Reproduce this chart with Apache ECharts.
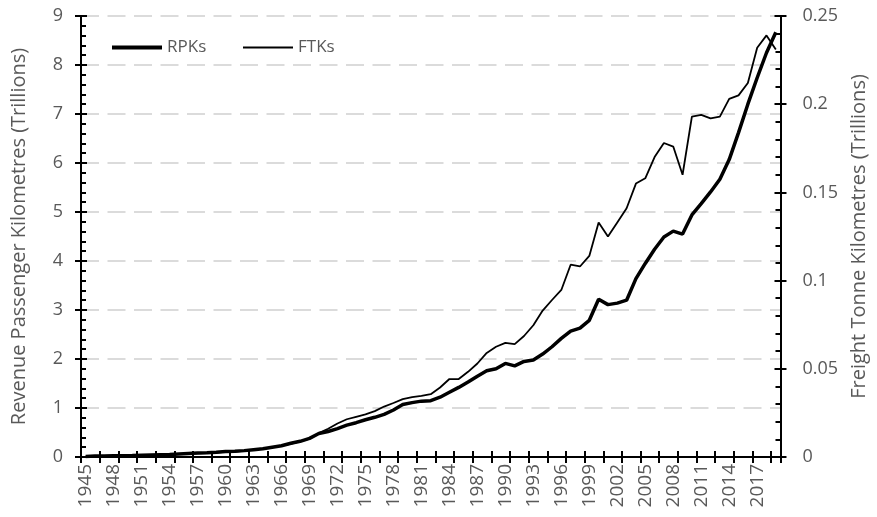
<!DOCTYPE html>
<html lang="en">
<head>
    <meta charset="utf-8">
    <title>RPKs and FTKs</title>
    <script type="text/javascript" src="https://cdn.jsdelivr.net/npm/echarts@6/dist/echarts.min.js"></script>
    <style>
        html, body { margin: 0; padding: 0; background: #fff; }
        #box { width: 877px; height: 517px; }
    </style>
</head>
<body>
    <div id="box"></div>
    <script>
        // years 1945 - 2019
        var years = [];
        for (var y = 1945; y <= 2019; y++) {
            years.push(String(y));
        }

        // Revenue Passenger Kilometres (trillions)
        var rpks = [
            0.01, 0.02, 0.022, 0.025, 0.028, 0.03, 0.035, 0.04, 0.045, 0.05,
            0.06, 0.07, 0.08, 0.085, 0.095, 0.11, 0.115, 0.13, 0.15, 0.17,
            0.2, 0.23, 0.28, 0.32, 0.38, 0.48, 0.52, 0.58, 0.65, 0.70,
            0.76, 0.81, 0.87, 0.96, 1.07, 1.11, 1.14, 1.15, 1.22, 1.32,
            1.42, 1.53, 1.65, 1.76, 1.80, 1.91, 1.86, 1.95, 1.98, 2.10,
            2.25, 2.42, 2.57, 2.63, 2.79, 3.22, 3.11, 3.14, 3.20, 3.64,
            3.95, 4.24, 4.49, 4.61, 4.55, 4.94, 5.17, 5.41, 5.67, 6.07,
            6.62, 7.20, 7.74, 8.25, 8.67
        ];

        // Freight Tonne Kilometres (trillions)
        var ftks = [
            0.0003, 0.0005, 0.0006, 0.0007, 0.0008, 0.0009, 0.001, 0.0011, 0.0012, 0.0014,
            0.0016, 0.0019, 0.0021, 0.0022, 0.0025, 0.0029, 0.0031, 0.0035, 0.004, 0.0047,
            0.0055, 0.0064, 0.0074, 0.0088, 0.0104, 0.0135, 0.016, 0.019, 0.0214, 0.0228,
            0.0242, 0.026, 0.0286, 0.0306, 0.0328, 0.0339, 0.0347, 0.0356, 0.0394, 0.0442,
            0.0442, 0.0483, 0.053, 0.059, 0.0625, 0.0647, 0.064, 0.0686, 0.0747, 0.083,
            0.089, 0.0947, 0.109, 0.108, 0.114, 0.133, 0.125, 0.133, 0.141, 0.155,
            0.158, 0.170, 0.178, 0.176, 0.160, 0.193, 0.194, 0.192, 0.193, 0.203,
            0.205, 0.212, 0.232, 0.239, 0.231
        ];

        var font = 'Open Sans';
        var grey = '#595959';
        var tickLine = { color: '#000', width: 2 };

        var myChart = echarts.init(document.getElementById('box'));

        var option = {
            animation: false,
            textStyle: { fontFamily: font },
            grid: { left: 81, right: 92, top: 16, bottom: 60, show: false },
            legend: [
                {
                    left: 107,
                    top: 34,
                    icon: 'rect',
                    itemWidth: 50,
                    itemHeight: 4,
                    itemGap: 6,
                    textStyle: { fontSize: 17, color: grey, fontFamily: font },
                    data: ['RPKs']
                },
                {
                    left: 238,
                    top: 34,
                    icon: 'rect',
                    itemWidth: 50,
                    itemHeight: 2,
                    textStyle: { fontSize: 17, color: grey, fontFamily: font },
                    data: ['FTKs']
                }
            ],
            xAxis: [
                {
                    type: 'category',
                    data: years,
                    position: 'bottom',
                    boundaryGap: true,
                    axisLine: { show: true, lineStyle: { color: '#000', width: 2 } },
                    axisTick: { show: true, interval: 1, length: 6, lineStyle: tickLine },
                    axisLabel: { interval: 2, rotate: 90, margin: 7, fontSize: 19, color: grey, fontFamily: font }
                },
                {
                    // inner half of the crossing ticks
                    type: 'category',
                    data: years,
                    position: 'bottom',
                    boundaryGap: true,
                    axisLine: { show: false },
                    axisTick: { show: true, interval: 1, inside: true, length: 6, lineStyle: tickLine },
                    axisLabel: { show: false }
                },
                {
                    // top border
                    type: 'category',
                    data: years,
                    position: 'top',
                    axisLine: { show: true, lineStyle: { color: '#000', width: 2 } },
                    axisTick: { show: false },
                    axisLabel: { show: false }
                }
            ],
            yAxis: [
                {
                    type: 'value',
                    position: 'left',
                    min: 0,
                    max: 9,
                    interval: 1,
                    name: 'Revenue Passenger Kilometres (Trillions)',
                    nameLocation: 'middle',
                    nameGap: 52,
                    nameTextStyle: { fontSize: 20, color: grey, fontFamily: font },
                    axisLine: { show: true, onZero: false, lineStyle: { color: '#000', width: 2 } },
                    axisTick: { show: true, length: 6, lineStyle: tickLine },
                    axisLabel: { margin: 18, fontSize: 18, color: grey, fontFamily: font },
                    splitLine: { show: true, lineStyle: { color: '#d0d0d0', width: 1.5, type: [18, 8.5] } }
                },
                {
                    type: 'value',
                    position: 'right',
                    min: 0,
                    max: 0.25,
                    interval: 0.05,
                    name: 'Freight Tonne Kilometres (Trillions)',
                    nameLocation: 'middle',
                    nameGap: 62,
                    nameRotate: 90,
                    nameTextStyle: { fontSize: 20, color: grey, fontFamily: font },
                    axisLine: { show: true, onZero: false, lineStyle: { color: '#000', width: 2 } },
                    axisTick: { show: true, length: 6, lineStyle: tickLine },
                    axisLabel: { margin: 22, fontSize: 18, color: grey, fontFamily: font },
                    splitLine: { show: false }
                },
                {
                    // inner ticks + minor ticks, left
                    type: 'value',
                    position: 'left',
                    min: 0,
                    max: 9,
                    interval: 1,
                    axisLine: { show: false, onZero: false },
                    axisTick: { show: true, inside: true, length: 6, lineStyle: tickLine },
                    minorTick: { show: true, splitNumber: 5, length: 5, lineStyle: tickLine },
                    axisLabel: { show: false },
                    splitLine: { show: false }
                },
                {
                    // inner ticks + minor ticks, right
                    type: 'value',
                    position: 'right',
                    min: 0,
                    max: 0.25,
                    interval: 0.05,
                    axisLine: { show: false, onZero: false },
                    axisTick: { show: true, inside: true, length: 6, lineStyle: tickLine },
                    minorTick: { show: true, splitNumber: 5, length: 5, lineStyle: tickLine },
                    axisLabel: { show: false },
                    splitLine: { show: false }
                }
            ],
            series: [
                {
                    name: 'RPKs',
                    type: 'line',
                    xAxisIndex: 0,
                    yAxisIndex: 0,
                    data: rpks,
                    symbol: 'none',
                    color: '#000',
                    lineStyle: { color: '#000', width: 3.5 },
                    z: 3
                },
                {
                    name: 'FTKs',
                    type: 'line',
                    xAxisIndex: 0,
                    yAxisIndex: 1,
                    data: ftks,
                    symbol: 'none',
                    color: '#000',
                    lineStyle: { color: '#000', width: 1.8 },
                    z: 4
                }
            ]
        };

        myChart.setOption(option, true);
    </script>
</body>
</html>
